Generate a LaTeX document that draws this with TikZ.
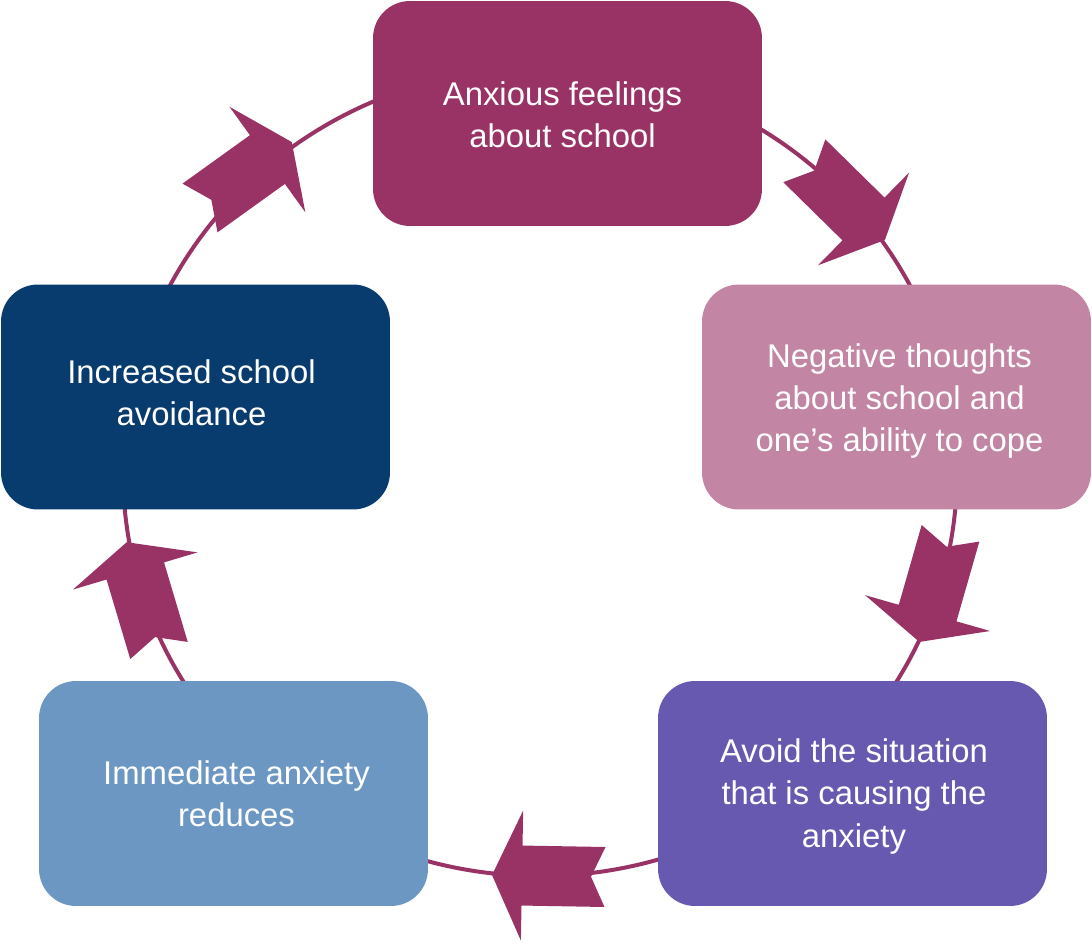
\documentclass[tikz,border=0pt]{standalone}
\usepackage{fontspec}
\setmainfont{Liberation Sans}
\definecolor{plum}{HTML}{993366}
\definecolor{mauve}{HTML}{C285A3}
\definecolor{violettwo}{HTML}{6759B0}
\definecolor{steel}{HTML}{6C97C2}
\definecolor{navy}{HTML}{083B6E}
\begin{document}
\begin{tikzpicture}[x=0.02cm,y=-0.02cm,
  box/.style={rounded corners=0.74cm, minimum width=7.78cm, minimum height=4.5cm, inner sep=0pt},
  boxtext/.style={text=white, align=center, font=\fontsize{18.7}{24.1}\selectfont, inner sep=0pt},
  ring/.style={draw=plum, line width=2.27pt},
  cyclearrow/.pic={\fill[plum] (0,30) -- (83,30) -- (83,65) -- (113,0) -- (83,-65)
      -- (83,-30) -- (0,-30) -- (14,0) -- cycle;}]
\useasboundingbox (0,0) rectangle (1092,945);
\draw[ring] (540,472) ellipse [x radius=417, y radius=404];
\node[box, fill=plum] (feel) at (567.5,113.5) {};
\node[box, fill=mauve] (neg) at (896.5,397) {};
\node[box, fill=violettwo] (avoid) at (852.5,793.5) {};
\node[box, fill=steel] (imm) at (233.5,793.5) {};
\node[box, fill=navy] (inc) at (195.5,397) {};
\node[boxtext] (feeltext) at ([shift={(-5,1)}]feel.center) {Anxious feelings\\about school};
\node[boxtext] (negtext) at ([shift={(3,4)}]neg.center) {Negative thoughts\\about school and\\one’s ability to cope};
\node[boxtext] (avoidtext) at ([shift={(1.5,3)}]avoid.center) {Avoid the situation\\that is causing the\\anxiety};
\node[boxtext] (immtext) at ([shift={(3,0)}]imm.center) {Immediate anxiety\\reduces};
\node[boxtext] (inctext) at ([shift={(-4,-4)}]inc.center) {Increased school\\avoidance};
\pic[rotate=35.7] at (200,208) {cyclearrow};
\pic[rotate=-44.5] at (804.3,160.8) {cyclearrow};
\pic[rotate=-106] at (950.5,533.3) {cyclearrow};
\pic[rotate=179] at (605,877) {cyclearrow};
\pic[rotate=106.6] at (159,650.5) {cyclearrow};
\end{tikzpicture}
\end{document}
